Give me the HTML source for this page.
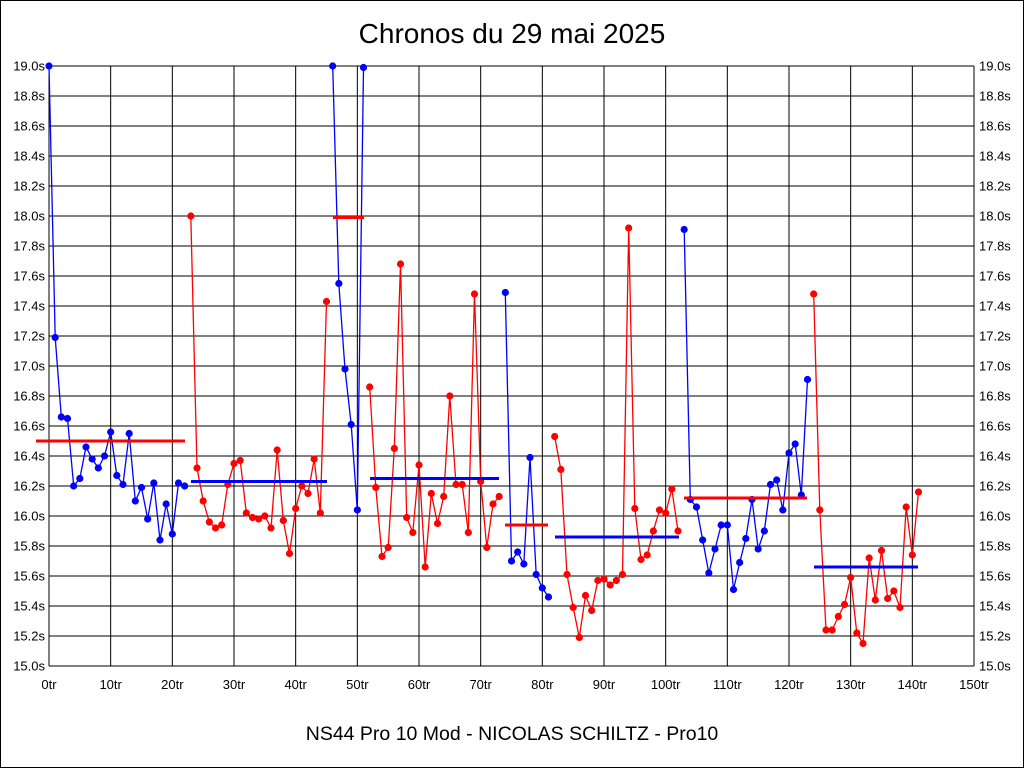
<!DOCTYPE html>
<html><head><meta charset="utf-8"><style>
body{margin:0;background:#fff;}
svg text{font-family:"Liberation Sans",sans-serif;}
</style></head><body>
<svg id="s" width="1024" height="768" xmlns="http://www.w3.org/2000/svg">
<rect x="0.5" y="0.5" width="1023" height="767" fill="#fff" stroke="#000"/>
<text x="512" y="43" font-size="28" text-anchor="middle">Chronos du 29 mai 2025</text>
<text x="512" y="740" font-size="19.5" text-anchor="middle">NS44 Pro 10 Mod - NICOLAS SCHILTZ - Pro10</text>
<g id="g"></g>
</svg>
<script>
var g=document.getElementById('g'),ns="http://www.w3.org/2000/svg";
function el(t,a,txt){var e=document.createElementNS(ns,t);for(var k in a)e.setAttribute(k,a[k]);if(txt!=null)e.textContent=txt;g.appendChild(e);return e;}
var X0=49,X1=974,Y0=666,Y1=66;
function X(i){return X0+i*(X1-X0)/150;}
function Y(v){return Y0-(v-15)*150;}
var h="";
for(var i=0;i<=20;i++){var v=15+i*0.2,y=Y(v);h+="M"+X0+" "+y+"H"+X1;
el('text',{x:45,y:y+4.5,'font-size':13,'text-anchor':'end'},v.toFixed(1)+"s");
el('text',{x:979,y:y+4.5,'font-size':13},v.toFixed(1)+"s");}
for(var i=0;i<=15;i++){var x=X(i*10);h+="M"+x+" "+Y1+"V"+Y0;
el('text',{x:x,y:689,'font-size':13,'text-anchor':'middle'},(i*10)+"tr");}
el('path',{d:h,stroke:'#000','stroke-width':1,fill:'none'});
var d=[19.0,17.19,16.66,16.65,16.20,16.25,16.46,16.38,16.32,16.40,16.56,16.27,16.21,16.55,16.10,16.19,15.98,16.22,15.84,16.08,15.88,16.22,16.20,
18.0,16.32,16.10,15.96,15.92,15.94,16.21,16.35,16.37,16.02,15.99,15.98,16.00,15.92,16.44,15.97,15.75,16.05,16.20,16.15,16.38,16.02,17.43,
19.0,17.55,16.98,16.61,16.04,18.99,
16.86,16.19,15.73,15.79,16.45,17.68,15.99,15.89,16.34,15.66,16.15,15.95,16.13,16.80,16.21,16.21,15.89,17.48,16.23,15.79,16.08,16.13,
17.49,15.70,15.76,15.68,16.39,15.61,15.52,15.46,
16.53,16.31,15.61,15.39,15.19,15.47,15.37,15.57,15.58,15.54,15.57,15.61,17.92,16.05,15.71,15.74,15.90,16.04,16.02,16.18,15.90,
17.91,16.11,16.06,15.84,15.62,15.78,15.94,15.94,15.51,15.69,15.85,16.11,15.78,15.90,16.21,16.24,16.04,16.42,16.48,16.14,16.91,
17.48,16.04,15.24,15.24,15.33,15.41,15.59,15.22,15.15,15.72,15.44,15.77,15.45,15.50,15.39,16.06,15.74,16.16];
var segs=[[0,22,'#00f',16.50,36,185],[23,45,'#f00',16.23,191,327],[46,51,'#00f',17.99,333,364],[52,73,'#f00',16.25,370,499],[74,81,'#00f',15.94,505,548],[82,102,'#f00',15.86,555,679],[103,123,'#00f',16.12,684,807],[124,141,'#f00',15.66,814,918]];
segs.forEach(function(s){var p="";for(var i=s[0];i<=s[1];i++)p+=(i==s[0]?"M":"L")+X(i).toFixed(1)+" "+Y(d[i]).toFixed(1);
el('path',{d:p,stroke:s[2],'stroke-width':1.3,fill:'none'});
for(var i=s[0];i<=s[1];i++)el('circle',{cx:X(i),cy:Y(d[i]),r:3.6,fill:s[2]});
var ac=s[2]=='#00f'?'#f00':'#00f';
el('path',{d:"M"+s[4]+" "+Y(s[3])+"H"+s[5],stroke:ac,'stroke-width':3});});
</script>
</body></html>
